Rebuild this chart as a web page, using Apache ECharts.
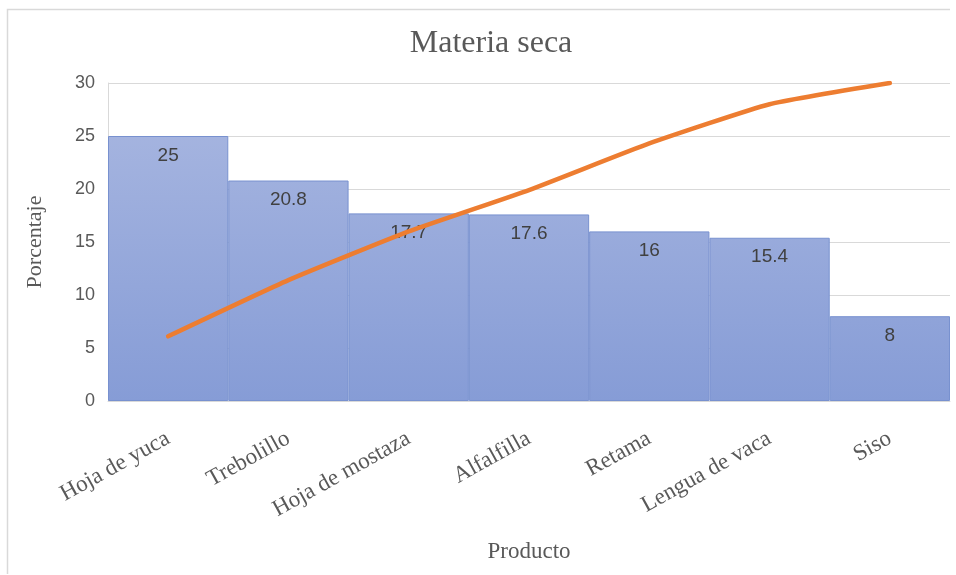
<!DOCTYPE html>
<html>
<head>
<meta charset="utf-8">
<script src="https://cdn.jsdelivr.net/npm/echarts@6/dist/echarts.min.js"></script>
<style>
html,body{margin:0;padding:0;background:#fff;}
#main{width:956px;height:575px;}
</style>
</head>
<body>
<div id="main"></div>
<script>
const categories = ['Hoja de yuca','Trebolillo','Hoja de mostaza','Alfalfilla','Retama','Lengua de vaca','Siso'];
const barValues = [25, 20.8, 17.7, 17.6, 16, 15.4, 8];
const lineValues = [6.1, 11.4, 16.0, 19.9, 24.3, 28.0, 30.0];
const yTicks = [0, 5, 10, 15, 20, 25, 30];

const chart = echarts.init(document.getElementById('main'), null, {renderer:'canvas'});
const serif = '"Liberation Serif", "DejaVu Serif", serif';
const sans = '"Liberation Sans", Arial, sans-serif';

chart.setOption({
  animation: false,
  backgroundColor: '#ffffff',
  title: {
    text: 'Materia seca',
    left: 486, top: 23, textAlign: 'center',
    textStyle: {fontFamily: serif, fontSize: 32, fontWeight: 'normal', color: '#595959'}
  },
  graphic: [{
    type: 'polyline',
    shape: {points: [[7.5, 574], [7.5, 9.5], [950, 9.5]]},
    style: {stroke: '#d9d9d9', lineWidth: 1.5, fill: null},
    silent: true
  }],
  grid: {left: 108, right: 6, top: 83, bottom: 174, containLabel: false},
  xAxis: {
    type: 'category',
    data: categories,
    name: 'Producto',
    nameLocation: 'middle',
    nameGap: 139,
    nameTextStyle: {fontFamily: serif, fontSize: 23, color: '#595959'},
    axisLine: {show: true, lineStyle: {color: '#d9d9d9', width: 1}},
    axisTick: {show: false},
    axisLabel: {interval: 0, rotate: 29, margin: 36, fontFamily: serif, fontSize: 23, color: '#595959'}
  },
  yAxis: {
    type: 'value',
    min: yTicks[0], max: yTicks[yTicks.length-1], interval: 5,
    name: 'Porcentaje',
    nameLocation: 'middle',
    nameGap: 62,
    nameRotate: 90,
    nameTextStyle: {fontFamily: serif, fontSize: 22, color: '#595959'},
    axisLine: {show: true, lineStyle: {color: '#d9d9d9', width: 1}},
    axisTick: {show: false},
    axisLabel: {margin: 13, fontFamily: sans, fontSize: 18, color: '#595959'},
    splitLine: {show: true, lineStyle: {color: '#d9d9d9', width: 1}}
  },
  series: [{
    type: 'bar',
    data: barValues,
    barCategoryGap: '0%',
    itemStyle: {
      color: new echarts.graphic.LinearGradient(0, 83, 0, 401, [
        {offset: 0, color: '#aab8e1'},
        {offset: 1, color: '#869cd6'}
      ], true),
      borderColor: '#7891cf',
      borderWidth: 1
    },
    label: {
      show: true, position: 'insideTop', distance: 10,
      fontFamily: sans, fontSize: 19, color: '#404040'
    },
    z: 2
  }, {
    type: 'line',
    data: lineValues,
    smooth: 0.15,
    symbol: 'none',
    lineStyle: {color: '#ed7d31', width: 4.5, cap: 'round', join: 'round'},
    z: 5
  }]
});
</script>
</body>
</html>
